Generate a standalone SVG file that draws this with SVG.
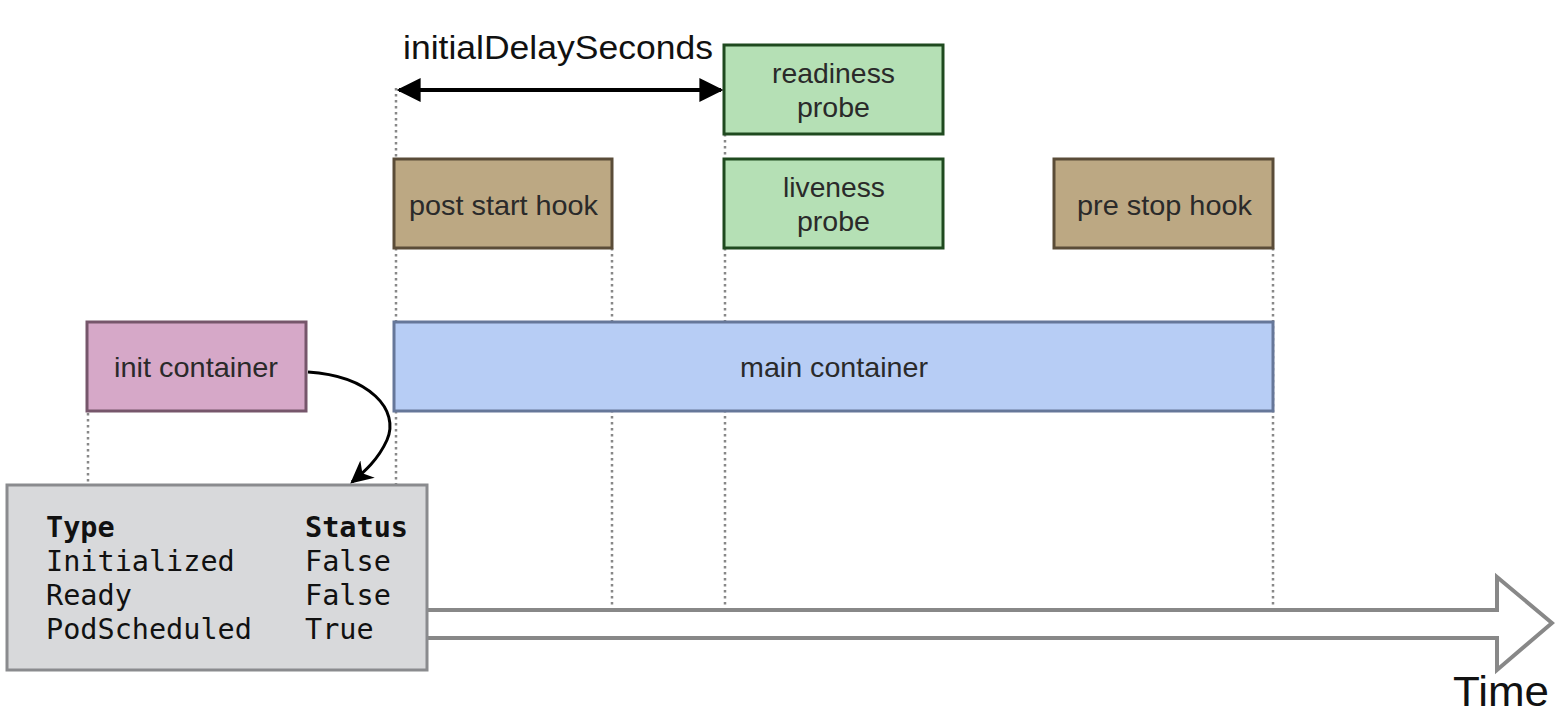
<svg xmlns="http://www.w3.org/2000/svg" width="1555" height="712" viewBox="0 0 1555 712">
<style>
.box{stroke-width:3}
.lbl{font-family:"Liberation Sans",Arial,sans-serif;font-size:28px;fill:#2a2a2a;text-anchor:middle}
.mono{font-family:"DejaVu Sans Mono",monospace;font-size:28.5px;fill:#111}
.dot{stroke:#888;stroke-width:2.5;stroke-dasharray:2.5 3.5;fill:none}
</style>
<defs>
<marker id="ah" viewBox="0 0 10 10" refX="9" refY="5" markerWidth="6" markerHeight="6" orient="auto-start-reverse" markerUnits="strokeWidth">
<path d="M0,0 L10,5 L0,10 z" fill="#000"/>
</marker>
<marker id="ah2" viewBox="0 0 10 10" refX="9" refY="5" markerWidth="7.5" markerHeight="7.5" orient="auto" markerUnits="strokeWidth">
<path d="M0,0 L10,5 L0,10 L3,5 z" fill="#000"/>
</marker>
</defs>
<rect width="1555" height="712" fill="#fff"/>
<g id="guides">
<line class="dot" x1="88" y1="413" x2="88" y2="485"/>
<line class="dot" x1="396" y1="88" x2="396" y2="159"/>
<line class="dot" x1="396" y1="248" x2="396" y2="322"/>
<line class="dot" x1="396" y1="411" x2="396" y2="485"/>
<line class="dot" x1="612" y1="248" x2="612" y2="608"/>
<line class="dot" x1="725" y1="134" x2="725" y2="159"/>
<line class="dot" x1="725" y1="248" x2="725" y2="608"/>
<line class="dot" x1="1273" y1="248" x2="1273" y2="608"/>
</g>
<g id="time-axis">
<path d="M427,610 L1497,610 L1497,577 L1552,623 L1497,670 L1497,638 L427,638" fill="#fff" stroke="#888" stroke-width="4" stroke-linejoin="miter"/>
<text x="1453" y="706" font-family="Liberation Sans,Arial,sans-serif" font-size="42" fill="#111" textLength="96" lengthAdjust="spacingAndGlyphs">Time</text>
</g>
<g id="readiness-probe">
<rect class="box" x="724" y="45" width="219" height="89" fill="#b5e0b5" stroke="#1f4a1f"/>
<text class="lbl" x="833.5" y="83" textLength="123" lengthAdjust="spacingAndGlyphs">readiness</text>
<text class="lbl" x="833.5" y="117" textLength="73" lengthAdjust="spacingAndGlyphs">probe</text>
</g>
<g id="liveness-probe">
<rect class="box" x="724" y="159" width="219" height="89" fill="#b5e0b5" stroke="#1f4a1f"/>
<text class="lbl" x="834" y="197" textLength="102" lengthAdjust="spacingAndGlyphs">liveness</text>
<text class="lbl" x="833.5" y="231" textLength="73" lengthAdjust="spacingAndGlyphs">probe</text>
</g>
<g id="post-start-hook">
<rect class="box" x="394" y="159" width="218" height="89" fill="#bca883" stroke="#5a4c38"/>
<text class="lbl" x="503.5" y="215" textLength="189" lengthAdjust="spacingAndGlyphs">post start hook</text>
</g>
<g id="pre-stop-hook">
<rect class="box" x="1054" y="159" width="219" height="89" fill="#bca883" stroke="#5a4c38"/>
<text class="lbl" x="1164.5" y="215" textLength="175" lengthAdjust="spacingAndGlyphs">pre stop hook</text>
</g>
<g id="main-container">
<rect class="box" x="394" y="322" width="879" height="89" fill="#b7cdf5" stroke="#667799"/>
<text class="lbl" x="834" y="377" textLength="188" lengthAdjust="spacingAndGlyphs">main container</text>
</g>
<g id="init-container">
<rect class="box" x="87" y="322" width="219" height="89" fill="#d6a8c8" stroke="#76566b"/>
<text class="lbl" x="196" y="377" textLength="164" lengthAdjust="spacingAndGlyphs">init container</text>
</g>
<g id="status-table">
<rect class="box" x="7" y="485" width="420" height="185" fill="#d8d9db" stroke="#8a8b8e"/>
<text class="mono" x="46" y="537" font-weight="bold">Type</text>
<text class="mono" x="305" y="537" font-weight="bold">Status</text>
<text class="mono" x="46" y="571">Initialized</text>
<text class="mono" x="305" y="571">False</text>
<text class="mono" x="46" y="605">Ready</text>
<text class="mono" x="305" y="605">False</text>
<text class="mono" x="46" y="639">PodScheduled</text>
<text class="mono" x="305" y="639">True</text>
</g>
<g id="connectors">
<line x1="399" y1="90" x2="721" y2="90" stroke="#000" stroke-width="4" marker-start="url(#ah)" marker-end="url(#ah)"/>
<text x="558" y="59" font-family="Liberation Sans,Arial,sans-serif" font-size="33" fill="#111" text-anchor="middle" textLength="310" lengthAdjust="spacingAndGlyphs">initialDelaySeconds</text>
<path d="M308,372 C370,376 400,410 387,440 C378,460 364,472 352,482" fill="none" stroke="#000" stroke-width="3" marker-end="url(#ah2)"/>
</g>
</svg>
